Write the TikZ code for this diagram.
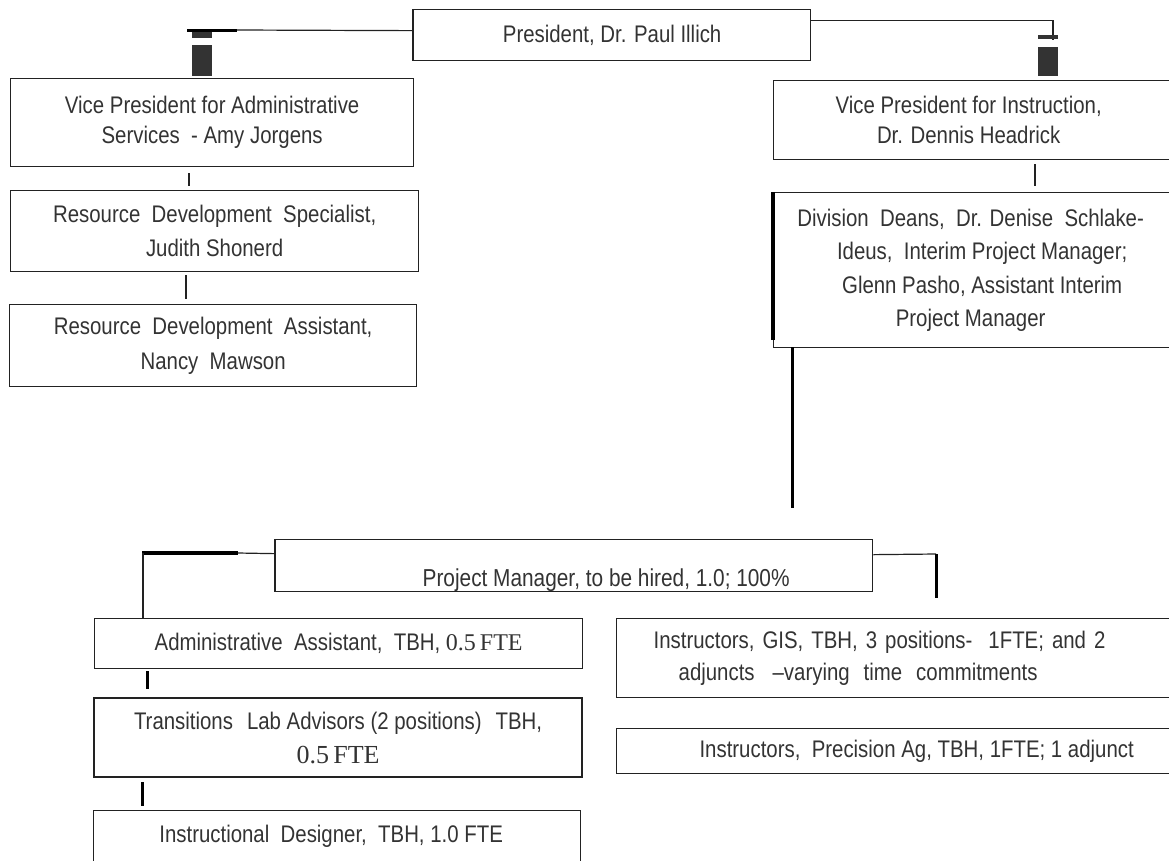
\documentclass[tikz,border=0pt]{standalone}
\usepackage{fontspec}
\setmainfont{Liberation Sans}[FakeStretch=0.85]
\newfontfamily\numserif{Liberation Serif}
\usetikzlibrary{calc}
\definecolor{ink}{HTML}{222222}
\definecolor{txt}{HTML}{333333}
\definecolor{barc}{HTML}{333333}
\begin{document}
\begin{tikzpicture}[x=1pt,y=-1pt,
  box/.style={draw=ink, line width=1.3pt, rectangle, anchor=north west, inner sep=0pt,
    align=center, text=txt, font=\fontsize{24}{32}\selectfont},
  conn/.style={draw=ink, line width=1.2pt},
  heavy/.style={draw=black, line width=3pt},
]
\useasboundingbox (0,0) rectangle (1169,860);

% ---------- boxes ----------
\node[box, minimum width=397pt, minimum height=51pt] (pres) at (413,9)
  {President, Dr. Paul Illich};
\node[box, minimum width=403pt, minimum height=88pt, font=\fontsize{24}{30}\selectfont] (vpa) at (10,78)
  {Vice President for Administrative\\Services\ \ - Amy Jorgens};
\node[box, minimum width=408pt, minimum height=81pt, font=\fontsize{24}{34}\selectfont] (rds) at (10,190)
  {Resource\ \ Development\ \ Specialist,\\Judith Shonerd};
\node[box, minimum width=407pt, minimum height=82pt, font=\fontsize{24}{35}\selectfont] (rda) at (9,304)
  {Resource\ \ Development\ \ Assistant,\\Nancy\ \ Mawson};
\node[box, minimum width=417pt, minimum height=79pt, font=\fontsize{24}{30}\selectfont] (vpi) at (773,80)
  {Vice President for Instruction,\hspace*{27pt}\\Dr. Dennis Headrick\hspace*{27pt}};
\node[box, minimum width=417pt, minimum height=155pt, font=\fontsize{24}{33.5}\selectfont] (dd) at (773,192)
  {Division\ \ Deans,\ \ Dr. Denise\ \ Schlake-\hspace*{23pt}\\Ideus,\ \ Interim Project Manager;\hspace*{23pt}\\Glenn Pasho, Assistant Interim\hspace*{23pt}\\Project\ Manager\hspace*{23pt}};
\node[box, minimum width=597pt, minimum height=52pt, text height=41pt, text depth=0pt,
  font=\fontsize{24.5}{32}\selectfont] (pm) at (275,539)
  {\hspace*{64pt}Project Manager, to be hired, 1.0; 100\%};
\node[box, minimum width=488pt, minimum height=50pt] (aa) at (94,618)
  {Administrative\ \ Assistant,\ \ TBH,\ {\numserif 0.5\,FTE}};
\node[box, minimum width=574pt, minimum height=79pt, align=left, inner xsep=37pt,
  text width=500pt, font=\fontsize{24}{32}\selectfont] (gis) at (616,618)
  {Instructors,\ GIS,\ TBH,\ 3 positions-\ \ 1FTE;\ and 2\\\hspace*{25pt}adjuncts\hspace{18pt}--varying\hspace{14pt}time\hspace{14pt}commitments};
\node[box, line width=2.2pt, minimum width=488pt, minimum height=79pt, font=\fontsize{24}{34}\selectfont] (tla) at (93,697)
  {Transitions\hspace{14pt}Lab Advisors (2 positions)\hspace{14pt}TBH,\\{\numserif\fontsize{26}{34}\selectfont 0.5\,FTE}};
\node[box, minimum width=574pt, minimum height=45pt] (pa) at (616,728)
  {\hspace*{26pt}Instructors,\ \ Precision Ag,\ TBH,\ 1FTE; 1 adjunct};
\node[box, minimum width=487pt, minimum height=52pt] (id) at (93,810)
  {Instructional\ \ Designer,\ \ TBH,\ 1.0 FTE\hspace*{12pt}};

% thicker edges
\draw[ink, line width=2.4pt] (pres.north west) -- (pres.south west);
\draw[black, line width=3.2pt] (dd.north west) -- ($(dd.south west)+(0,-8)$);
\draw[ink, line width=2pt] (pm.north west) -- (pm.south west);

% ---------- connectors ----------
% President -> VP Administrative
\coordinate (jl) at (237,30);
\draw[conn] ([yshift=4.5pt]pres.west) -- (jl);
\draw[black, line width=3pt] ([xshift=-50pt]jl) -- (jl);
\fill[barc] (192,32) rectangle (212,38);
\fill[barc] (192,45) rectangle ($(vpa.north west)+(202,-2)$);

% President -> VP Instruction
\coordinate (jr) at (1053,40);
\draw[conn] ([yshift=14.5pt]pres.east) -| (jr);
\fill[barc] (1038,35) rectangle (1058,39);
\fill[barc] (1038,47) rectangle ($(vpi.north west)+(285,-4)$);

% VP Admin -> RDS -> RDA
\draw[conn] ($(vpa.south west)+(179,6)$) -- ++(0,13);
\draw[ink, line width=2pt] ($(rds.south west)+(176,3)$) -- ++(0,24);

% VP Instruction -> Deans
\draw[conn] ($(vpi.south west)+(262,4)$) -- ++(0,22);

% Deans -> Project Manager
\coordinate (dpm) at (792,508);
\draw[heavy] ($(dd.south west)+(19,-1)$) -- (dpm);

% Project Manager -> Administrative Assistant
\coordinate (pmj) at (238,553);
\coordinate (pmk) at (143,553);
\draw[conn] ([yshift=12pt]pm.west) -- (pmj);
\draw[black, line width=4.5pt] ([xshift=-1pt]pmk) -- (pmj);
\draw[conn] (pmk) -- (pmk |- aa.north);

% Project Manager -> Instructors
\coordinate (pmr) at (936,598);
\coordinate (pmt) at (936,554);
\draw[conn] ([yshift=11pt]pm.east) -- (pmt);
\draw[heavy] (pmt) -- (pmr);

% Admin Assistant -> Transitions -> Instructional Designer
\draw[heavy] ($(aa.south west)+(53,2)$) -- ++(0,18);
\draw[heavy] ($(tla.south west)+(49,4)$) -- ++(0,24);
\end{tikzpicture}
\end{document}
